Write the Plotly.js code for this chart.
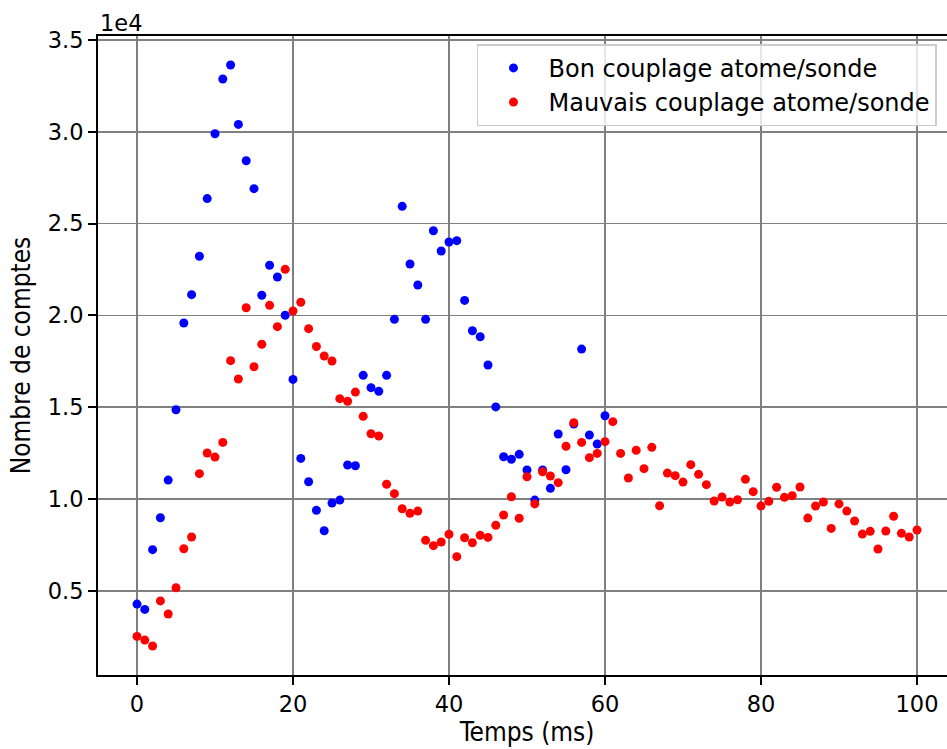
<!DOCTYPE html>
<html>
<head>
<meta charset="utf-8">
<script src="https://cdn.plot.ly/plotly-3.0.1.min.js"></script>
<style>
html, body { margin: 0; padding: 0; overflow: hidden; background: #fff; }
#chart { width: 960px; height: 749px; }
</style>
</head>
<body>
<div id="chart"></div>
<script>
const timeGood = [0,1,2,3,4,5,6,7,8,9,10,11,12,13,14,15,16,17,18,19,20,21,22,23,24,25,26,27,28,29,30,31,32,33,34,35,36,37,38,39,40,41,42,43,44,45,46,47,48,49,50,51,52,53,54,55,56,57,58,59,60];
const countsGood = [4290,4000,7250,8990,11040,14870,19590,21130,23220,26360,29890,32870,33630,30400,28420,26900,21100,22730,22090,20010,16520,12220,10950,9390,8280,9790,9950,11860,11820,16740,16070,15870,16740,19790,25940,22800,21660,19790,24610,23510,24000,24070,20820,19170,18840,17300,15020,12310,12170,12440,11590,9950,11590,10590,13550,11600,14090,18170,13490,13000,14540];

const timeBad = [0,1,2,3,4,5,6,7,8,9,10,11,12,13,14,15,16,17,18,19,20,21,22,23,24,25,26,27,28,29,30,31,32,33,34,35,36,37,38,39,40,41,42,43,44,45,46,47,48,49,50,51,52,53,54,55,56,57,58,59,60,61,62,63,64,65,66,67,68,69,70,71,72,73,74,75,76,77,78,79,80,81,82,83,84,85,86,87,88,89,90,91,92,93,94,95,96,97,98,99,100];
const countsBad = [2530,2330,2010,4460,3750,5180,7300,7940,11390,12510,12290,13090,17540,16540,20420,17210,18430,20550,19390,22510,20240,20720,19280,18310,17790,17520,15470,15330,15830,14510,13560,13440,10810,10300,9480,9230,9350,7760,7470,7670,8090,6870,7900,7630,8030,7920,8580,9140,10130,8960,11220,9740,11490,11260,10900,12880,14160,13090,12260,12490,13130,14220,12490,11150,12660,11660,12820,9640,11420,11280,10930,11880,11350,10790,9900,10120,9840,9970,11080,10410,9630,9880,10650,10100,10190,10660,8970,9630,9840,8410,9740,9350,8810,8100,8250,7290,8270,9070,8140,7940,8320];

const nameGood = "Bon couplage atome/sonde";
const nameBad = "Mauvais couplage atome/sonde";
const xTitle = "Temps (ms)";
const yTitle = "Nombre de comptes";
const yTickVals = [5000,10000,15000,20000,25000,30000,35000];
const yTickText = ["0.5","1.0","1.5","2.0","2.5","3.0","3.5"];
const xTickVals = [0,20,40,60,80,100];
const offsetText = "1e4";

const tickFont = {family: "DejaVu Sans", size: 22.5, color: "#000"};
const titleFont = {family: "DejaVu Sans Condensed, DejaVu Sans", size: 26, color: "#000"};
const legendFont = {family: "DejaVu Sans", size: 24, color: "#000"};

const traces = [
  {x: timeGood, y: countsGood, type: "scatter", mode: "markers", name: nameGood,
   marker: {color: "#0000ff", size: 9}},
  {x: timeBad, y: countsBad, type: "scatter", mode: "markers", name: nameBad,
   marker: {color: "#ff0000", size: 9}}
];

const axisCommon = {
  showline: true, linecolor: "#000", linewidth: 2, mirror: true,
  ticks: "outside", ticklen: 8, tickwidth: 2, tickcolor: "#000",
  showgrid: true, gridcolor: "#808080", gridwidth: 1.8,
  zeroline: false, tickfont: tickFont, automargin: false
};

const layout = {
  width: 960, height: 749,
  margin: {l: 98, r: 4, t: 36, b: 74},
  paper_bgcolor: "#fff", plot_bgcolor: "#fff",
  font: tickFont,
  showlegend: true,
  legend: {
    x: 0.4417, y: 0.987, xanchor: "left", yanchor: "top",
    bgcolor: "rgba(255,255,255,0.8)", bordercolor: "#cccccc", borderwidth: 1.5,
    font: legendFont, itemwidth: 60
  },
  xaxis: Object.assign({}, axisCommon, {
    range: [-5, 105], tickvals: xTickVals,
    title: {text: xTitle, font: titleFont, standoff: 6}
  }),
  yaxis: Object.assign({}, axisCommon, {
    range: [429, 35211], tickvals: yTickVals, ticktext: yTickText,
    title: {text: yTitle, font: titleFont, standoff: 10}
  }),
  annotations: [{
    text: offsetText, xref: "paper", yref: "paper", x: 0, y: 1,
    xanchor: "left", yanchor: "bottom", showarrow: false, font: tickFont, yshift: -2
  }]
};

Plotly.newPlot("chart", traces, layout, {displayModeBar: false, staticPlot: true});
</script>
</body>
</html>
